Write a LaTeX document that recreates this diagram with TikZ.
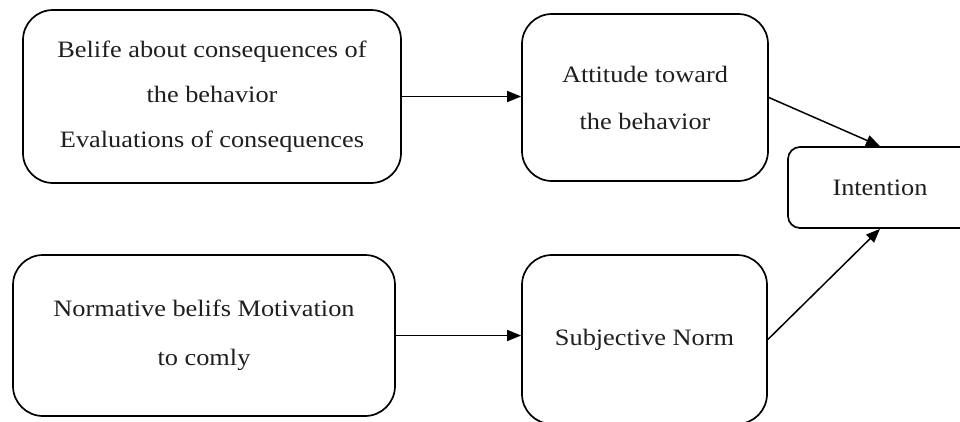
\documentclass[tikz,border=0pt]{standalone}
\usepackage{fontspec}
\setmainfont[FakeStretch=1.12]{Liberation Serif}
\usetikzlibrary{arrows.meta}
\begin{document}
\begin{tikzpicture}[x=1pt,y=-1pt,
  box/.style={draw, line width=1.7pt, rounded corners=30pt, align=center,
    inner sep=0pt, font=\fontsize{23.5}{45}\selectfont, text=black!88},
  flow/.style={line width=1.5pt, -{Triangle[length=14pt,width=11pt]}}]
  \clip (0,0) rectangle (960,421);
  \fill[white] (0,0) rectangle (960,421);

  % belief / evaluation of consequences
  \node[box, minimum width=378pt, minimum height=173pt] (belief) at (212,96.5)
    {Belife about consequences of\\the behavior\\Evaluations of consequences};
  % attitude
  \node[box, minimum width=246pt, minimum height=167pt,
    font=\fontsize{23.5}{47}\selectfont] (attitude) at (645,97.5)
    {Attitude toward\\the behavior};
  % intention
  \node[box, rounded corners=12pt, minimum width=184pt, minimum height=81pt] (intent) at (880,187.5)
    {Intention};
  % normative beliefs
  \node[box, minimum width=382pt, minimum height=161pt,
    font=\fontsize{23.5}{49}\selectfont] (norm) at (204,335.5)
    {Normative belifs Motivation\\to comly};
  % subjective norm
  \node[box, minimum width=245pt, minimum height=169pt] (subj) at (644.5,339.5)
    {Subjective Norm};

  \draw[flow] (belief.east) -- (belief.east -| attitude.west);
  \draw[flow] (norm.east) -- (norm.east -| subj.west);
  \draw[flow] (attitude.east) -- (intent.north);
  \draw[flow] (subj.east) -- (intent.south);
\end{tikzpicture}
\end{document}
